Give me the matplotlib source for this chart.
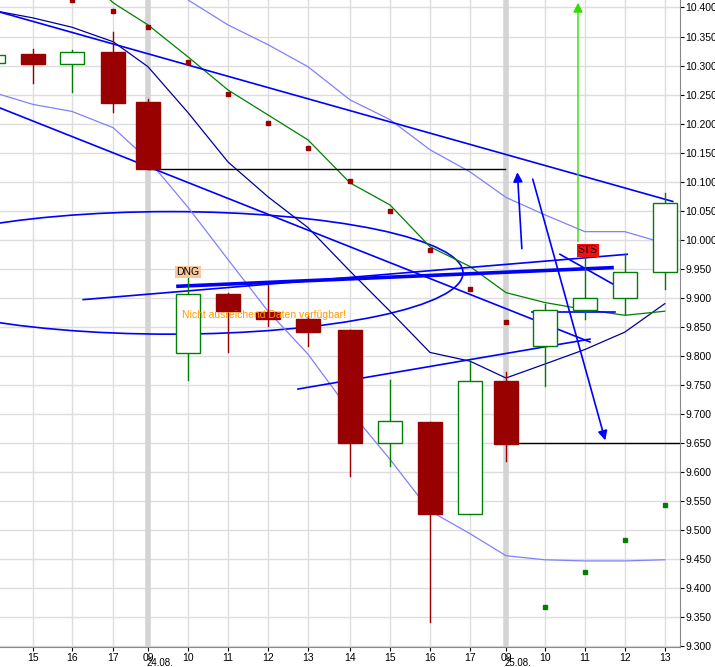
import matplotlib
matplotlib.use('Agg')
import matplotlib.pyplot as plt
from matplotlib.patches import Ellipse, Rectangle

plt.rcParams['font.family'] = ['Liberation Sans', 'DejaVu Sans']

# candle x positions (hour slots, px/40) and labels
xpos   = [-0.18, 0.83, 1.80, 2.83, 3.70, 4.70, 5.70, 6.70, 7.70, 8.75, 9.75, 10.75, 11.75, 12.65, 13.62, 14.62, 15.62, 16.62]
hours  = ['14', '15', '16', '17', '09', '10', '11', '12', '13', '14', '15', '16', '17', '09', '10', '11', '12', '13']
opens  = [10.305, 10.320, 10.303, 10.324, 10.238, 9.805, 9.906, 9.875, 9.863, 9.844, 9.650, 9.686, 9.528, 9.756, 9.817, 9.879, 9.899, 9.944]
closes = [10.318, 10.303, 10.324, 10.236, 10.122, 9.906, 9.877, 9.863, 9.841, 9.650, 9.688, 9.528, 9.756, 9.648, 9.879, 9.899, 9.944, 10.064]
highs  = [10.325, 10.329, 10.327, 10.358, 10.243, 9.935, 9.909, 9.923, 9.868, 9.844, 9.758, 9.686, 9.789, 9.772, 9.889, 9.973, 9.975, 10.080]
lows   = [10.300, 10.270, 10.255, 10.220, 10.122, 9.758, 9.806, 9.851, 9.817, 9.593, 9.610, 9.341, 9.528, 9.619, 9.748, 9.863, 9.872, 9.916]

# indicators, per candle (index into xpos), None = off chart
sar      = [None, None, 10.413, 10.394, 10.366, 10.306, 10.251, 10.201, 10.158, 10.102, 10.050, 9.982, 9.916, 9.858, 9.368, 9.428, 9.483, 9.543]
ma_green = [None, None, None, 10.408, 10.370, 10.315, 10.258, 10.215, 10.172, 10.098, 10.060, 9.988, 9.954, 9.909, 9.892, 9.880, 9.870, 9.877]
bb_upper = [None, None, None, None, None, 10.413, 10.370, 10.336, 10.298, 10.241, 10.207, 10.155, 10.117, 10.073, 10.043, 10.014, 10.014, 9.994]
bb_lower = [10.254, 10.233, 10.221, 10.193, 10.138, 10.056, 9.966, 9.877, 9.803, 9.705, 9.622, 9.533, 9.494, 9.456, 9.449, 9.447, 9.447, 9.449]
bb_mid   = [10.395, 10.382, 10.366, 10.341, 10.298, 10.219, 10.134, 10.074, 10.021, 9.946, 9.877, 9.806, 9.791, 9.762, 9.786, 9.811, 9.841, 9.890]

# hand drawn trend lines: (x0, p0, x1, p1, width)
trend = [
    (0.00, 10.392, 16.82, 10.066, 1.2),
    (0.00, 10.227, 14.75, 9.824, 1.2),
    (4.45, 9.920, 15.30, 9.952, 2.6),
    (2.08, 9.897, 15.68, 9.975, 1.2),
    (7.45, 9.743, 14.75, 9.829, 1.2),
    (13.30, 9.875, 15.38, 9.875, 1.2),
    (14.00, 9.975, 15.42, 9.920, 1.2),
]

RED, GREEN, BLUE = '#990000', '#008000', '#0000ff'

fig = plt.figure(figsize=(7.15, 6.67), dpi=100)
ax = fig.add_axes([0, 20/667, 680/715, 647/667])
ax.set_xlim(0, 17)
ax.set_ylim(9.2988, 10.4129)

# grid
for p in [i * 0.05 + 9.30 for i in range(23)]:
    ax.axhline(p, color='#dddddd', lw=1, zorder=0)
for i, x in enumerate(xpos[1:]):
    sep = hours[i + 1] == '09'
    ax.axvline(x, color='#d4d4d4' if sep else '#dddddd', lw=4 if sep else 1, zorder=0)

# indicator lines
def series(vals):
    pts = [(x, v) for x, v in zip(xpos, vals) if v is not None]
    return [p[0] for p in pts], [p[1] for p in pts]

xs, ys = series(bb_upper); ax.plot([4.65] + xs, [10.43] + ys, color='#8080ff', lw=0.9)
xs, ys = series(bb_lower); ax.plot(xs, ys, color='#8080ff', lw=0.9)
xs, ys = series(bb_mid);   ax.plot(xs, ys, color='#000099', lw=0.9)
xs, ys = series(ma_green); ax.plot([2.5] + xs, [10.43] + ys, color='#008000', lw=0.9)

for x0, p0, x1, p1, w in trend:
    ax.plot([x0, x1], [p0, p1], color=BLUE, lw=w)
ax.add_patch(Ellipse((4.25, 9.943), 14.65, 0.211, fill=False, ec=BLUE, lw=1.2))

# horizontal levels
ax.plot([3.70, 12.62], [10.122, 10.122], color='black', lw=1)
ax.plot([12.65, 17], [9.650, 9.650], color='black', lw=1)

# arrows
ax.annotate('', xy=(12.93, 10.121), xytext=(13.05, 9.980),
            arrowprops=dict(arrowstyle='-|>', color=BLUE, lw=1.2, mutation_scale=14))
ax.annotate('', xy=(15.15, 9.650), xytext=(13.30, 10.109),
            arrowprops=dict(arrowstyle='-|>', color=BLUE, lw=1.2, mutation_scale=14))
ax.annotate('', xy=(14.45, 10.413), xytext=(14.45, 9.992),
            arrowprops=dict(arrowstyle='-|>', color='#33dd00', lw=1.0, mutation_scale=14))

# candles
for x, o, c, h, l in zip(xpos, opens, closes, highs, lows):
    up = c >= o
    col = GREEN if up else RED
    ax.plot([x, x], [l, h], color=col, lw=1, zorder=3)
    ax.add_patch(Rectangle((x - 0.3, min(o, c)), 0.6, abs(c - o),
                           fc='white' if up else RED, ec=col, lw=1, zorder=4))

# SAR dots
for x, v, c in zip(xpos, sar, closes):
    if v is not None:
        ax.plot(x, v, 's', ms=3.5, color=RED if v > c else GREEN, zorder=5)

# labels
ax.text(4.70, 9.936, 'DNG', fontsize=7.5, ha='center', va='bottom',
        bbox=dict(fc='#f5c8a0', ec='none', pad=1), zorder=6)
ax.text(6.6, 9.870, 'Nicht ausreichend Daten verfügbar!', fontsize=7.5,
        color='#ff9900', ha='center', va='center', zorder=6)
ax.text(14.70, 9.982, 'STS', fontsize=7.5, ha='center', va='center',
        bbox=dict(fc='#ee1111', ec='none', pad=1), zorder=6)

# axes
ax.yaxis.tick_right()
ax.set_yticks([i * 0.05 + 9.30 for i in range(23)])
ax.set_yticklabels([f'{i * 0.05 + 9.30:.3f}' for i in range(23)], fontsize=7.5)
ax.set_xticks(xpos[1:])
ax.set_xticklabels(hours[1:], fontsize=7.5)
ax.tick_params(length=3, pad=1)
for x, d in [(3.70, '24.08.'), (12.65, '25.08.')]:
    ax.text(x - 0.03, -0.0175, d, transform=ax.get_xaxis_transform(), fontsize=7,
            ha='left', va='top')
for s in ['top', 'left']:
    ax.spines[s].set_visible(False)
for s in ['bottom', 'right']:
    ax.spines[s].set_color('#888888')

fig.savefig('out.png', dpi=100)
